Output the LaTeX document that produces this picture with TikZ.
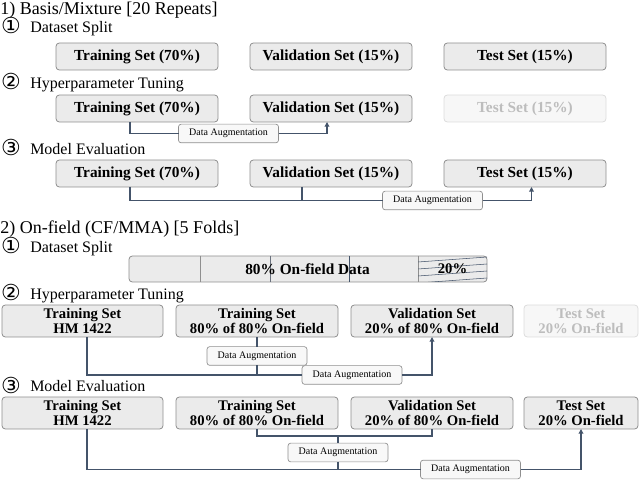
\documentclass[tikz,border=0pt]{standalone}
\usepackage{fontspec}
\setmainfont{Liberation Serif}[BoldFont={Liberation Serif Bold}]
\newfontfamily\circfont{DejaVu Sans}
\usetikzlibrary{arrows.meta,calc,positioning}
\definecolor{boxfill}{HTML}{EBEBEB}
\definecolor{boxline}{HTML}{8F8F8F}
\definecolor{linkcol}{HTML}{44546A}
\definecolor{fadefill}{HTML}{F7F7F7}
\definecolor{fadeline}{HTML}{DCDCDC}
\definecolor{fadetext}{HTML}{BDBDBD}
\definecolor{augfill}{HTML}{F8F8F8}

\begin{document}
\begin{tikzpicture}[x=0.75pt,y=-0.75pt,
          setbox/.style={draw=boxline,fill=boxfill,rounded corners=2.5pt,line width=0.6pt,outer sep=0pt,inner sep=1pt,
                         minimum width=121.5pt,minimum height=20.25pt,font=\fontsize{11.5}{12}\selectfont\bfseries},
          splitbox/.style={setbox,minimum height=24pt,align=center,font=\fontsize{11}{11.5}\selectfont\bfseries},
          fadebox/.style={draw=fadeline,fill=fadefill,text=fadetext},
          augbox/.style={draw=boxline,fill=augfill,rounded corners=2pt,line width=0.5pt,outer sep=0pt,inner sep=1pt,
                         minimum width=75pt,minimum height=14pt,font=\fontsize{7.5}{8}\selectfont},
          barbox/.style={draw=boxline,fill=boxfill,rounded corners=2.5pt,line width=0.6pt,outer sep=0pt,inner sep=0pt,
                         minimum width=268.5pt,minimum height=19.5pt},
          heading/.style={anchor=base west,inner sep=0pt,font=\fontsize{13.5}{14}\selectfont},
          stepname/.style={anchor=base west,inner sep=0pt,font=\fontsize{12}{13}\selectfont},
          stepnum/.style={anchor=base,inner sep=0pt,font=\circfont\fontsize{16.5}{17}\selectfont},
          link/.style={draw=linkcol,line width=0.9pt},
          linkarrow/.style={link,-{Triangle[length=3.5pt,width=3.5pt]}}]

                \useasboundingbox (0,0) rectangle (640,481);

                % 1) Basis/Mixture
                \node[heading] (H1) at (0,15) {1) Basis/Mixture [20 Repeats]};
                \node[stepnum] (N11) at (11,34) {①};
                \node[stepname] (S11) at (30,33) {Dataset Split};
                \node[setbox] (T1) at (137,56.5) {Training Set (70\%)};
                \node[setbox,right=24pt of T1] (V1) {Validation Set (15\%)};
                \node[setbox,right=24pt of V1] (E1) {Test Set (15\%)};

                \node[stepnum] (N12) at (11,90) {②};
                \node[stepname] (S12) at (30,89) {Hyperparameter Tuning};
                \node[setbox] (T2) at (137,108.5) {Training Set (70\%)};
                \node[setbox,right=24pt of T2] (V2) {Validation Set (15\%)};
                \node[setbox,fadebox,right=24pt of V2] (E2) {Test Set (15\%)};
                \node[augbox] (D2) at (228.5,133.5) {Data Augmentation};
                \draw[link] ($(T2.south)+(-7,0)$) |- (D2.west);
                \draw[linkarrow] (D2.east) -| ($(V2.south)+(-4,0)$);

                \node[stepnum] (N13) at (11,156) {③};
                \node[stepname] (S13) at (30,155) {Model Evaluation};
                \node[setbox] (T3) at (137,173.5) {Training Set (70\%)};
                \node[setbox,right=24pt of T3] (V3) {Validation Set (15\%)};
                \node[setbox,right=24pt of V3] (E3) {Test Set (15\%)};
                \node[augbox] (D3) at (432.5,200.5) {Data Augmentation};
                \coordinate (v3tap) at ($(V3.south)+(-29,0)$);
                \draw[link] ($(T3.south)+(-7,0)$) |- (D3.west);
                \draw[link] (v3tap) -- (v3tap |- D3.west);
                \draw[linkarrow] (D3.east) -| ($(E3.south)+(6.5,0)$);

                % 2) On-field
                \node[heading] (H2) at (0,234) {2) On-field (CF/MMA) [5 Folds]};
                \node[stepnum] (N21) at (11,254) {①};
                \node[stepname] (S21) at (30,253) {Dataset Split};
                \node[barbox] (bar) at (308,269) {};
                \foreach \dx/\col in {71/boxline,141/boxline!50!linkcol,220/linkcol,289/boxline}
                  \draw[color=\col,line width=0.6pt] ($(bar.north west)+(\dx,0)$) -- ($(bar.south west)+(\dx,0)$);
                \begin{scope}
                  \clip ($(bar.north west)+(289,0)$) rectangle (bar.south east);
                  \foreach \hy in {262,269,276,283}
                    \draw[linkcol,line width=0.4pt] (418,\hy) -- (487,\hy-5);
                \end{scope}
                \node[font=\fontsize{11.5}{12}\selectfont\bfseries] (L80) at (307.5,269) {80\% On-field Data};
                \node[font=\fontsize{11}{12}\selectfont\bfseries] (L20) at (452.5,269) {20\%};

                \node[stepnum] (N22) at (11,301) {②};
                \node[stepname] (S22) at (30,300) {Hyperparameter Tuning};
                \node[splitbox,minimum width=120.75pt] (HM2) at (82.5,321) {Training Set\\HM 1422};
                \node[splitbox,right=9.75pt of HM2] (TR2) {Training Set\\80\% of 80\% On-field};
                \node[splitbox,right=9.75pt of TR2] (VA2) {Validation Set\\20\% of 80\% On-field};
                \node[splitbox,fadebox,minimum width=85.5pt,right=8.25pt of VA2] (TE2) {Test Set\\20\% On-field};
                \node[augbox] (DA21) at (257,356) {Data Augmentation};
                \node[augbox] (DA22) at (352,375) {Data Augmentation};
                \draw[link] ($(HM2.south)+(4.5,0)$) |- (DA22.west);
                \draw[link] (TR2.south) -- (DA21.north);
                \draw[link] (DA21.south) -- (DA21.south |- DA22.west);
                \draw[linkarrow] (DA22.east) -| (VA2.south);

                \node[stepnum] (N23) at (11,393) {③};
                \node[stepname] (S23) at (30,392) {Model Evaluation};
                \node[splitbox,minimum width=120.75pt] (HM3) at (82.5,413) {Training Set\\HM 1422};
                \node[splitbox,right=9.75pt of HM3] (TR3) {Training Set\\80\% of 80\% On-field};
                \node[splitbox,right=9.75pt of TR3] (VA3) {Validation Set\\20\% of 80\% On-field};
                \node[splitbox,minimum width=85.5pt,right=8.25pt of VA3] (TE3) {Test Set\\20\% On-field};
                \coordinate (bus) at (338,436);
                \node[augbox] (DA31) at (338,452.5) {Data Augmentation};
                \node[augbox] (DA32) at (470.5,469.5) {Data Augmentation};
                \draw[link] (TR3.south) |- (bus) -| (VA3.south);
                \draw[link] (bus) -- (DA31.north);
                \draw[link] (DA31.south) -- (DA31.south |- DA32.west);
                \draw[link] ($(HM3.south)+(4.5,0)$) |- (DA32.west);
                \draw[linkarrow] (DA32.east) -| (TE3.south);
              \end{tikzpicture}
\end{document}
